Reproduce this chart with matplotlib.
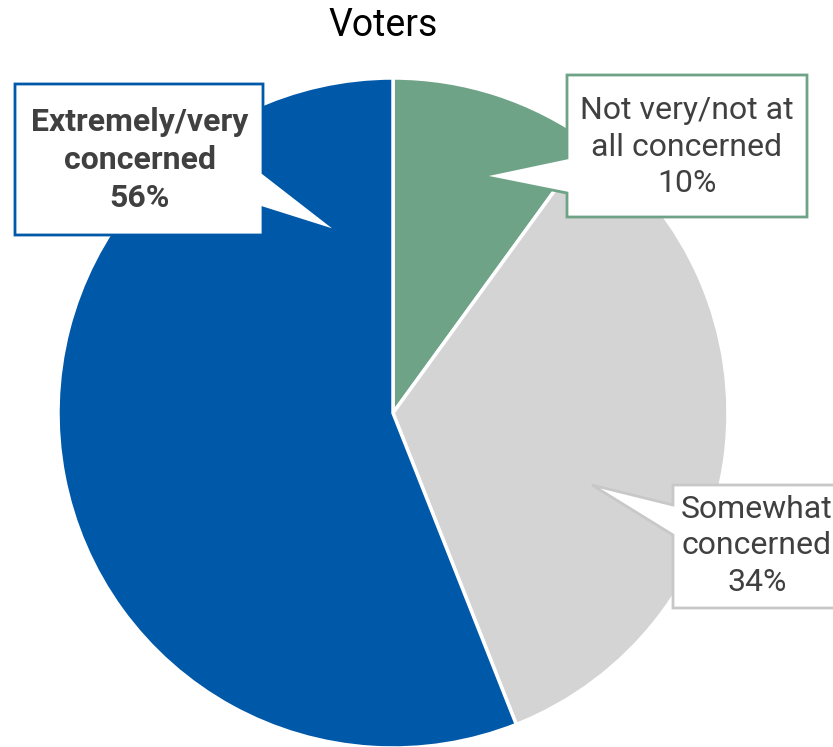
import matplotlib
matplotlib.use("Agg")
import matplotlib.pyplot as plt
from matplotlib.patches import Polygon

plt.rcParams['font.family'] = ['Roboto', 'DejaVu Sans']

# Survey shares (percent), drawn clockwise from 12 o'clock
categories = ["Not very/not at\nall concerned", "Somewhat\nconcerned", "Extremely/very\nconcerned"]
values = [10, 34, 56]
colors = ["#6FA388", "#D4D4D4", "#0058A8"]
edge_colors = ["#6FA388", "#C8C8C8", "#0058A8"]
bold = [False, False, True]
title = "Voters"

W, H = 833, 747
fig = plt.figure(figsize=(W / 100, H / 100), dpi=100)
ax = fig.add_axes([0, 0, 1, 1])
ax.set_xlim(0, W)
ax.set_ylim(0, H)
ax.set_aspect('equal')
ax.axis('off')


def py(y):
    """Convert a top-down pixel row into axis y."""
    return H - y


cx, cy, r = 393, py(413), 335
ax.pie(values, colors=colors, startangle=90, counterclock=False,
       center=(cx, cy), radius=r,
       wedgeprops=dict(edgecolor='white', linewidth=2.5))
ax.set_xlim(0, W)
ax.set_ylim(0, H)

ax.text(383, py(26), title, ha='center', va='center', fontsize=27, color='black')

# Callout shapes: box outline with a pointer notch toward the wedge
callouts = [
    # green (left-pointing)
    [(567, 75), (807, 75), (807, 217), (567, 217), (567, 193), (482, 176), (567, 158)],
    # grey (pointer from the upper-left)
    [(673, 485), (845, 485), (845, 608), (673, 608), (673, 535), (592, 485), (673, 505)],
    # blue (right-pointing)
    [(15, 84), (263, 84), (263, 173), (339, 232), (263, 208), (263, 235), (15, 235)],
]
text_pos = [(687, 147), (757, 546), (140, 160)]

for i, pts in enumerate(callouts):
    poly = Polygon([(x, py(y)) for x, y in pts], closed=True,
                   facecolor='white', edgecolor=edge_colors[i], linewidth=2,
                   joinstyle='miter', zorder=5)
    ax.add_patch(poly)
    label = f"{categories[i]}\n{values[i]}%"
    tx, ty = text_pos[i]
    ax.text(tx, py(ty), label, ha='center', va='center', fontsize=23,
            fontweight='bold' if bold[i] else 'normal', color='#404040',
            linespacing=1.33, zorder=6)

fig.savefig("out.png", dpi=100)
